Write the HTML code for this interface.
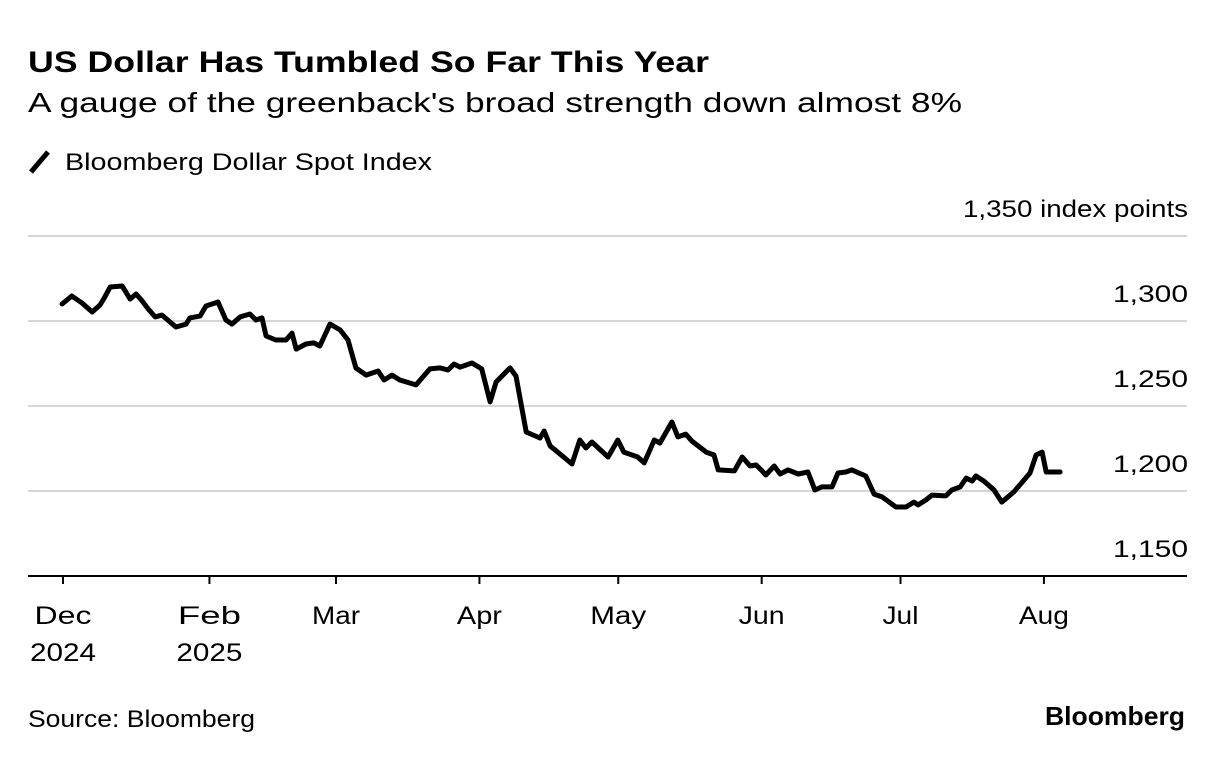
<!DOCTYPE html>
<html><head><meta charset="utf-8"><style>
body{margin:0;background:#fff;font-family:"Liberation Sans",sans-serif;color:#000}
svg text{font-family:"Liberation Sans",sans-serif}
</style></head><body>
<svg width="1223" height="760" viewBox="0 0 1223 760">
<text x="28" y="72" font-size="30" font-weight="bold" textLength="681" lengthAdjust="spacingAndGlyphs">US Dollar Has Tumbled So Far This Year</text>
<text x="28" y="112" font-size="28" textLength="934" lengthAdjust="spacingAndGlyphs">A gauge of the greenback's broad strength down almost 8%</text>
<g>
<line x1="31" y1="172" x2="48" y2="152" stroke="#000" stroke-width="5"/>
<text x="65" y="170" font-size="24" textLength="367" lengthAdjust="spacingAndGlyphs">Bloomberg Dollar Spot Index</text>
</g>
<g id="grid"></g>
<g id="xaxis"></g>
<path id="line" fill="none" stroke="#000" stroke-width="5" stroke-linejoin="round" stroke-linecap="round"/>
<text x="28" y="727" font-size="24" textLength="227" lengthAdjust="spacingAndGlyphs">Source: Bloomberg</text>
<text x="1045" y="725" font-size="26" font-weight="bold" textLength="140" lengthAdjust="spacingAndGlyphs">Bloomberg</text>
</svg>
<script>
const yTicks=[1350,1300,1250,1200,1150];
const xTickDays=[0,31,59,90,120,151,181,212];
const xTickMonths=["Dec","Feb","Mar","Apr","May","Jun","Jul","Aug"];
const xTickYears=["2024","2025","","","","","",""];
const days=[-0.2,1.9,4.1,6.3,8.0,8.9,10.2,12.8,14.5,15.8,17.1,18.4,19.9,21.4,24.4,26.6,27.4,29.6,30.9,33.5,35.2,36.5,38.3,40.4,41.7,43.0,43.9,46.0,48.2,49.5,50.4,52.5,54.2,55.5,57.7,59.9,61.6,63.3,65.5,68.1,69.4,71.1,72.8,76.3,79.3,81.5,83.2,84.5,85.8,88.4,90.5,92.3,93.6,96.6,97.9,100.1,103.1,104.0,105.3,107.4,110.0,111.7,113.0,114.3,117.8,119.9,121.2,124.2,125.6,127.8,129.0,131.6,132.9,134.6,135.9,139.0,140.7,141.6,145.1,146.8,148.5,149.8,151.1,151.9,153.7,155.0,156.7,158.9,161.0,162.5,164.0,166.2,167.5,169.2,170.5,173.5,175.3,177.0,180.0,182.2,183.9,184.8,186.5,187.8,190.8,192.1,193.9,195.2,196.5,197.3,199.0,201.2,202.9,205.5,209.0,210.3,211.6,212.5,215.5];
const values=[1310.0,1314.7,1310.6,1305.3,1309.4,1313.5,1320.0,1320.6,1312.9,1315.9,1311.8,1307.1,1302.4,1303.5,1296.5,1298.2,1301.8,1302.9,1308.8,1311.2,1300.6,1298.2,1302.4,1304.1,1300.6,1301.8,1291.2,1288.8,1288.8,1292.9,1283.5,1286.5,1287.1,1285.3,1298.2,1294.7,1288.8,1272.4,1268.2,1270.6,1265.3,1268.2,1265.3,1262.4,1271.8,1272.4,1271.2,1274.7,1272.9,1275.3,1271.8,1252.4,1264.1,1272.4,1267.6,1234.7,1231.2,1235.3,1226.5,1221.8,1215.9,1230.0,1225.3,1228.8,1220.0,1230.0,1222.9,1220.0,1216.5,1230.0,1228.2,1240.6,1231.8,1233.5,1229.4,1222.9,1221.2,1212.4,1211.8,1220.0,1214.7,1215.3,1211.8,1209.4,1214.7,1210.0,1212.4,1210.0,1211.2,1200.6,1202.4,1202.4,1210.6,1211.2,1212.4,1208.8,1198.2,1196.5,1190.6,1190.6,1193.5,1191.8,1194.7,1197.6,1197.1,1200.6,1202.4,1207.6,1205.9,1208.8,1205.9,1200.6,1193.5,1199.4,1210.6,1221.2,1222.9,1211.2,1211.2];
const NS="http://www.w3.org/2000/svg";
const xs=d=>63+d*4.627;
const ys=v=>576-(v-1150)*1.7;
const monthW={Dec:57,Feb:63,Mar:48,Apr:45,May:56,Jun:46,Jul:36,Aug:50};
const grid=document.getElementById('grid');
yTicks.forEach((t,i)=>{
 if(i<yTicks.length-1){
  const l=document.createElementNS(NS,'line');
  
  
  l.setAttribute('x1',28);l.setAttribute('x2',1187);l.setAttribute('y1',ys(t));l.setAttribute('y2',ys(t));
  l.setAttribute('stroke','#d6d6d6');l.setAttribute('stroke-width','2');grid.appendChild(l);
 }
 const tx=document.createElementNS(NS,'text');
 
 
 tx.setAttribute('x',1188);tx.setAttribute('y',ys(t)-19);tx.setAttribute('text-anchor','end');tx.setAttribute('font-size','24');
 tx.setAttribute('textLength',i===0?225:75);tx.setAttribute('lengthAdjust','spacingAndGlyphs');
 tx.textContent=t.toLocaleString('en-US')+(i===0?' index points':'');grid.appendChild(tx);
});
const xa=document.getElementById('xaxis');
const ax=document.createElementNS(NS,'line');


ax.setAttribute('x1',28);ax.setAttribute('x2',1187);ax.setAttribute('y1',576);ax.setAttribute('y2',576);ax.setAttribute('stroke','#000');ax.setAttribute('stroke-width','2');xa.appendChild(ax);
xTickDays.forEach((d,i)=>{
 const x=xs(d)+(i===1?3:0);
 const tk=document.createElementNS(NS,'line');
 
 
 tk.setAttribute('x1',x);tk.setAttribute('x2',x);tk.setAttribute('y1',576);tk.setAttribute('y2',584);tk.setAttribute('stroke','#000');tk.setAttribute('stroke-width','2');xa.appendChild(tk);
 const t=document.createElementNS(NS,'text');
 
 
 t.setAttribute('x',x);t.setAttribute('y',624);t.setAttribute('text-anchor','middle');t.setAttribute('font-size','25');
 t.setAttribute('textLength',monthW[xTickMonths[i]]||50);t.setAttribute('lengthAdjust','spacingAndGlyphs');
 t.textContent=xTickMonths[i];xa.appendChild(t);
 if(xTickYears[i]){
  const y=document.createElementNS(NS,'text');
  
  
  y.setAttribute('x',x);y.setAttribute('y',661);y.setAttribute('text-anchor','middle');y.setAttribute('font-size','25');
  y.setAttribute('textLength',66);y.setAttribute('lengthAdjust','spacingAndGlyphs');
  y.textContent=xTickYears[i];xa.appendChild(y);
 }
});
document.getElementById('line').setAttribute('d',days.map((d,i)=>(i?'L':'M')+xs(d).toFixed(1)+','+ys(values[i]).toFixed(1)).join(''));
</script>
</body></html>
